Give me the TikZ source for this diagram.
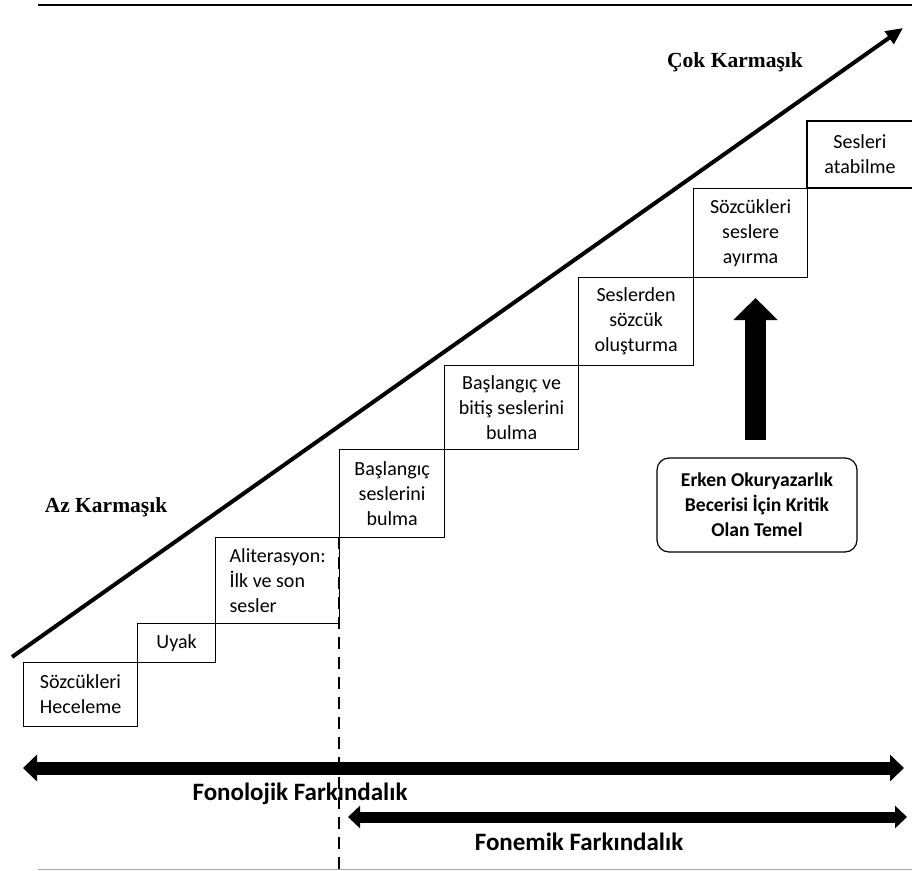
\documentclass[tikz,border=0pt]{standalone}
\usepackage{fontspec}
\setmainfont{Carlito}
\newfontfamily\serifb{Liberation Serif}
\usetikzlibrary{arrows.meta}
\tikzset{
  stepbox/.style={draw, line width=1.2pt, inner sep=0pt, anchor=north west, align=center,
    font=\fontsize{20}{25}\selectfont},
  boxtext/.style={inner sep=0pt, align=center, font=\fontsize{20}{25}\selectfont},
  cxlabel/.style={inner sep=0pt, font=\serifb\bfseries\fontsize{21.5}{25}\selectfont},
  awlabel/.style={inner sep=0pt, font=\bfseries\fontsize{25}{28}\selectfont},
  keybox/.style={draw, line width=1.2pt, rounded corners=12pt, inner sep=0pt, align=center,
    minimum width=200pt, minimum height=94pt, font=\bfseries\fontsize{19.6}{25}\selectfont},
  bigdbl/.style={line width=13pt, {Triangle[length=14pt,width=26pt]}-{Triangle[length=14pt,width=26pt]}},
  smalldbl/.style={line width=11pt, {Triangle[length=12pt,width=22pt]}-{Triangle[length=12pt,width=22pt]}},
}
\begin{document}
\begin{tikzpicture}[x=1pt,y=-1pt]
\useasboundingbox (0,0) rectangle (912,870);
% frame lines
\coordinate (tl) at (38,5); \coordinate (tr) at (912,5);
\draw[line width=2.2pt] (tl) -- (tr);
\coordinate (bl) at (38,869); \coordinate (br) at (912,869);
\draw[line width=1pt, black!35] (bl) -- (br);
% diagonal arrow
\coordinate (ds) at (12,657); \coordinate (de) at (903,28);
\draw[line width=4pt, -{Triangle[length=17pt,width=15pt]}] (ds) -- (de);
% labels
\node[cxlabel] (cok) at (735,62) {Çok Karmaşık};
\node[cxlabel] (az) at (106,507) {Az Karmaşık};
% steps
\node[stepbox, minimum width=114pt, minimum height=64pt, align=left] (b1) at (23,662) {Sözcükleri\\Heceleme};
\node[stepbox, minimum width=78pt, minimum height=39pt] (b2) at (137,623) {Uyak};
\node[stepbox, minimum width=124pt, minimum height=86pt, align=left] (b3) at (215,537) {Aliterasyon:\\İlk ve son\\sesler};
\node[stepbox, minimum width=105pt, minimum height=88pt] (b4) at (339,449) {Başlangıç\\seslerini\\bulma};
\node[stepbox, minimum width=134pt, minimum height=84pt] (b5) at (444,365) {Başlangıç ve\\bitiş seslerini\\bulma};
\node[stepbox, minimum width=115pt, minimum height=88pt] (b6) at (578,277) {Seslerden\\sözcük\\oluşturma};
\node[stepbox, minimum width=114pt, minimum height=89pt] (b7) at (693,188) {Sözcükleri\\seslere\\ayırma};
\coordinate (b8a) at (807,121); \coordinate (b8b) at (925,188);
\draw[line width=1.2pt] (b8a) rectangle (b8b);
\node[boxtext] (b8) at (860,154) {Sesleri\\atabilme};
% dashed divider
\coordinate (dv1) at (339,537); \coordinate (dv2) at (339,870);
\draw[line width=2.5pt, dash pattern=on 12pt off 8pt] (dv1) -- (dv2);
% up arrow and key box
\node[keybox] (key) at (757,505) {Erken Okuryazarlık\\Becerisi İçin Kritik\\Olan Temel};
\coordinate (ua1) at (755.5,440); \coordinate (ua2) at (755.5,298);
\draw[line width=21pt, -{Triangle[length=22pt,width=43pt]}] (ua1) -- (ua2);
% bottom arrows
\coordinate (f1) at (23,768); \coordinate (f2) at (904,768);
\draw[bigdbl] (f1) -- (f2);
\node[awlabel] (fon) at (300,794) {Fonolojik Farkındalık};
\coordinate (m1) at (348,817); \coordinate (m2) at (907,817);
\draw[smalldbl] (m1) -- (m2);
\node[awlabel] (fonem) at (579,842) {Fonemik Farkındalık};
\end{tikzpicture}
\end{document}
